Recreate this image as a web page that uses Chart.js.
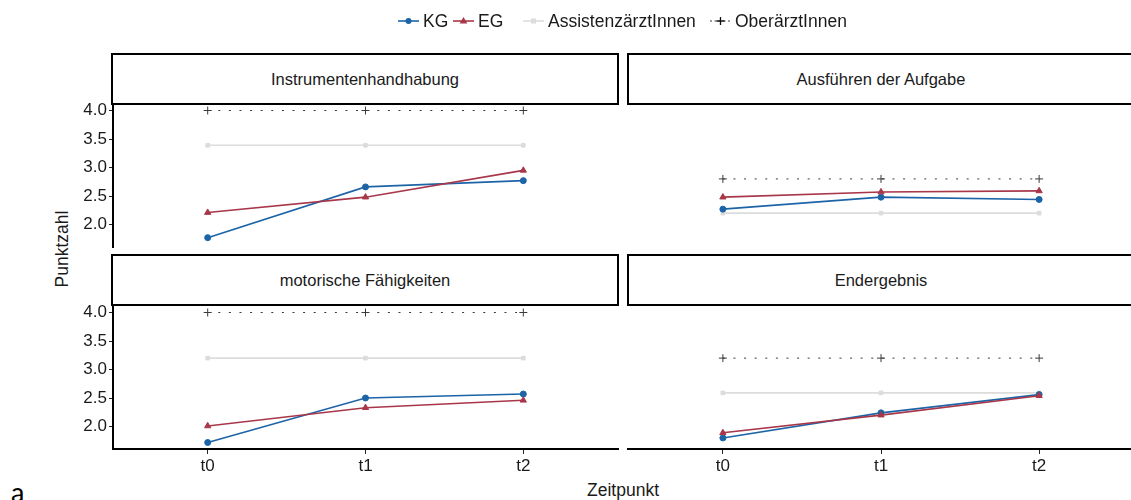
<!DOCTYPE html>
<html>
<head>
<meta charset="utf-8">
<script src="https://cdn.jsdelivr.net/npm/chart.js@4/dist/chart.umd.min.js"></script>
<style>
  html, body { margin: 0; padding: 0; background: #fff; }
  #wrap { position: relative; width: 1131px; height: 500px; overflow: hidden;
          font-family: "Liberation Sans", Arial, Helvetica, sans-serif; color: #1a1a1a; }
  canvas { position: absolute; left: 0; top: 0; }
  .strip { position: absolute; box-sizing: border-box; border: 2px solid #000; background: #fff;
           display: flex; align-items: center; justify-content: center; font-size: 16.5px; color: #1a1a1a; }
  .leg { position: absolute; top: 10px; height: 22px; display: flex; align-items: center;
         font-size: 17.5px; color: #1a1a1a; white-space: nowrap; }
  .leg svg { margin-right: 4px; }
  .title { position: absolute; font-size: 17.5px; color: #1a1a1a; white-space: nowrap; }
  #ylab { left: 62px; top: 249px; transform: translate(-50%, -50%) rotate(-90deg); }
  #xlab { left: 623px; top: 490px; transform: translate(-50%, -50%); }
  #tag { position: absolute; left: 11px; top: 475px; font-family: "Lato", "Open Sans", sans-serif; font-size: 27px; color: #000; }
</style>
</head>
<body>
<div id="wrap">
  <div id="ylab" class="title">Punktzahl</div>
  <div id="xlab" class="title">Zeitpunkt</div>
  <div id="tag">a</div>
</div>
<script>
// Messzeitpunkte und Facetten
const zeitpunkte = ['t0', 't1', 't2'];
const facetten = ['Instrumentenhandhabung', 'Ausführen der Aufgabe', 'motorische Fähigkeiten', 'Endergebnis'];

// Mittelwerte je Facette (Reihenfolge wie facetten)
const kgWerte = [
  [1.77, 2.66, 2.77],
  [2.27, 2.48, 2.44],
  [1.72, 2.50, 2.57],
  [1.80, 2.24, 2.56]
];
const egWerte = [
  [2.21, 2.48, 2.95],
  [2.48, 2.57, 2.59],
  [2.01, 2.33, 2.46],
  [1.89, 2.20, 2.54]
];
const assistenzWerte = [
  [3.39, 3.39, 3.39],
  [2.20, 2.20, 2.20],
  [3.20, 3.20, 3.20],
  [2.59, 2.59, 2.59]
];
const oberWerte = [
  [4.0, 4.0, 4.0],
  [2.8, 2.8, 2.8],
  [4.0, 4.0, 4.0],
  [3.2, 3.2, 3.2]
];
const yTicks = [2.0, 2.5, 3.0, 3.5, 4.0];

// Serien-Darstellung (legendX: linker Rand des Legendeneintrags)
const serien = [
  { label: 'KG', werte: kgWerte, color: '#1c64a7', point: 'circle', radius: 3, width: 1.6, dash: [], order: 1, legendX: 398 },
  { label: 'EG', werte: egWerte, color: '#a8374a', point: 'triangle', radius: 3.6, width: 1.6, dash: [], order: 0, legendX: 453 },
  { label: 'AssistenzärztInnen', werte: assistenzWerte, color: '#dcdcdc', point: 'rect', radius: 2.6, width: 1.6, dash: [], order: 3, legendX: 523 },
  { label: 'OberärztInnen', werte: oberWerte, color: '#3a3a3a', point: 'cross', radius: 4, width: 1, dash: [2, 8.6], order: 2, legendX: 710 }
];

// Gemeinsame y-Skala (feste Skalen, 5 % Erweiterung)
const alle = [kgWerte, egWerte, assistenzWerte, oberWerte].flat(2);
const yMin0 = Math.min(...alle), yMax0 = Math.max(...alle);
const yExp = (yMax0 - yMin0) * 0.05;
const Y_MIN = yMin0 - yExp, Y_MAX = yMax0 + yExp;

// Panel-Geometrie (Plotbereich) und Achsen
const CW = 1140, CH = 500, Y_AXIS_W = 44, X_AXIS_H = 34;
const panels = [
  { l: 113, t: 104, r: 618, b: 247, showY: true,  showX: false, strip: { x: 111, y: 53 } },
  { l: 628, t: 104, r: 1134, b: 247, showY: false, showX: false, strip: { x: 627, y: 53 } },
  { l: 113, t: 306, r: 618, b: 449, showY: true,  showX: true,  strip: { x: 111, y: 254 } },
  { l: 628, t: 306, r: 1134, b: 449, showY: false, showX: true,  strip: { x: 627, y: 254 } }
];
const STRIP_W = 508, STRIP_H = 52;
const tickFont = { family: '"Liberation Sans", Arial, sans-serif', size: 17 };
const tickColor = '#1a1a1a';

const wrap = document.getElementById('wrap');

panels.forEach((p, i) => {
  const cv = document.createElement('canvas');
  cv.width = CW; cv.height = CH;
  cv.style.width = CW + 'px'; cv.style.height = CH + 'px';
  wrap.appendChild(cv);

  const datasets = serien.map(s => ({
    label: s.label,
    data: s.werte[i].map((v, k) => ({ x: k, y: v })),
    borderColor: s.color,
    backgroundColor: s.color,
    pointBorderColor: s.color,
    pointBackgroundColor: s.color,
    pointStyle: s.point,
    pointRadius: s.radius,
    pointBorderWidth: 1,
    borderWidth: s.width,
    borderDash: s.dash,
    tension: 0,
    order: s.order
  }));

  new Chart(cv, {
    type: 'line',
    data: { datasets },
    options: {
      responsive: false,
      animation: false,
      devicePixelRatio: 1,
      clip: false,
      layout: {
        padding: {
          left: p.l - (p.showY ? Y_AXIS_W : 0),
          top: p.t,
          right: CW - p.r,
          bottom: CH - p.b - (p.showX ? X_AXIS_H : 0)
        }
      },
      plugins: { legend: { display: false }, tooltip: { enabled: false } },
      scales: {
        x: {
          type: 'linear',
          min: -0.6, max: 2.6,
          display: p.showX,
          afterBuildTicks: s => { s.ticks = zeitpunkte.map((_, k) => ({ value: k })); },
          afterFit: s => { s.height = p.showX ? X_AXIS_H : 0; },
          ticks: { callback: v => zeitpunkte[v], font: tickFont, color: tickColor, padding: 2, maxRotation: 0 },
          grid: { display: true, drawOnChartArea: false, drawTicks: true, tickLength: 5, color: '#222', lineWidth: 1 },
          border: { display: true, color: '#000', width: 2 }
        },
        y: {
          type: 'linear',
          min: Y_MIN, max: Y_MAX,
          display: p.showY,
          afterBuildTicks: s => { s.ticks = yTicks.map(v => ({ value: v })); },
          afterFit: s => { s.width = p.showY ? Y_AXIS_W : 0; },
          ticks: { callback: v => v.toFixed(1), font: tickFont, color: tickColor, padding: 2 },
          grid: { display: true, drawOnChartArea: false, drawTicks: true, tickLength: 4, color: '#222', lineWidth: 1 },
          border: { display: true, color: '#000', width: 2 }
        }
      }
    }
  });

  const st = document.createElement('div');
  st.className = 'strip';
  st.style.left = p.strip.x + 'px';
  st.style.top = p.strip.y + 'px';
  st.style.width = STRIP_W + 'px';
  st.style.height = STRIP_H + 'px';
  st.textContent = facetten[i];
  wrap.appendChild(st);
});

// Legende
function symbol(s) {
  const ns = 'http://www.w3.org/2000/svg';
  const svg = document.createElementNS(ns, 'svg');
  svg.setAttribute('width', '21'); svg.setAttribute('height', '12');
  const line = document.createElementNS(ns, 'line');
  line.setAttribute('x1', '0'); line.setAttribute('x2', '21');
  line.setAttribute('y1', '6'); line.setAttribute('y2', '6');
  line.setAttribute('stroke', s.color);
  line.setAttribute('stroke-width', s.width);
  if (s.dash.length) line.setAttribute('stroke-dasharray', '2,2.5');
  svg.appendChild(line);
  let m;
  if (s.point === 'circle') {
    m = document.createElementNS(ns, 'circle');
    m.setAttribute('cx', '10.5'); m.setAttribute('cy', '6'); m.setAttribute('r', '3');
    m.setAttribute('fill', s.color);
  } else if (s.point === 'triangle') {
    m = document.createElementNS(ns, 'polygon');
    m.setAttribute('points', '10.5,2 14.3,8.6 6.7,8.6');
    m.setAttribute('fill', s.color);
  } else if (s.point === 'rect') {
    m = document.createElementNS(ns, 'rect');
    m.setAttribute('x', '8'); m.setAttribute('y', '3.5'); m.setAttribute('width', '5'); m.setAttribute('height', '5');
    m.setAttribute('fill', s.color);
  } else {
    m = document.createElementNS(ns, 'path');
    m.setAttribute('d', 'M10.5 2 V10 M6.5 6 H14.5');
    m.setAttribute('stroke', '#111'); m.setAttribute('stroke-width', '1.3');
  }
  svg.appendChild(m);
  return svg;
}
serien.forEach(s => {
  const it = document.createElement('div');
  it.className = 'leg';
  it.style.left = s.legendX + 'px';
  it.appendChild(symbol(s));
  const t = document.createElement('span');
  t.textContent = s.label;
  it.appendChild(t);
  wrap.appendChild(it);
});
</script>
</body>
</html>
